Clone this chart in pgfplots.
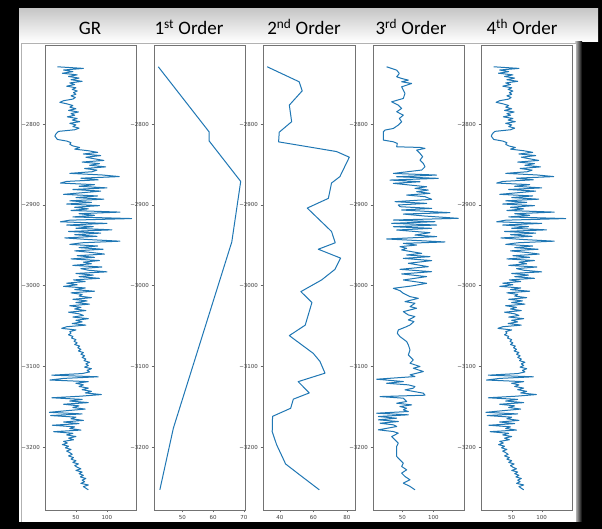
\documentclass[border=0pt]{standalone}
\usepackage{fontspec}
\setmainfont{Carlito}
\newfontfamily\ticksans{DejaVu Sans}
\usepackage{pgfplots}
\usepackage{pgfplotstable}
\pgfplotsset{compat=1.18}
\definecolor{mplblue}{RGB}{31,119,180}

% depth, GR value
\pgfplotstableread{
d v
-2729 20
-2731 62
-2733 30
-2735 45
-2737 28
-2739 52
-2741 38
-2743 55
-2745 42
-2747 60
-2749 40
-2751 48
-2753 35
-2755 50
-2757 44
-2759 52
-2761 46
-2763 50
-2765 42
-2767 49
-2769 45
-2771 30
-2773 24
-2775 36
-2777 45
-2779 40
-2781 50
-2783 38
-2785 54
-2787 42
-2789 48
-2791 36
-2793 52
-2795 44
-2797 56
-2799 40
-2801 50
-2803 45
-2805 55
-2807 48
-2809 22
-2811 19
-2813 17
-2815 16
-2817 18
-2819 20
-2821 35
-2823 42
-2825 40
-2827 45
-2829 56
-2831 48
-2833 70
-2835 85
-2837 62
-2839 90
-2841 66
-2843 80
-2845 95
-2847 60
-2849 88
-2851 72
-2853 98
-2855 64
-2857 84
-2859 76
-2861 40
-2863 92
-2865 120
-2867 58
-2869 86
-2871 35
-2873 25
-2875 80
-2877 55
-2879 100
-2881 45
-2883 90
-2885 60
-2887 30
-2889 85
-2891 50
-2893 95
-2895 40
-2897 75
-2899 35
-2901 88
-2903 48
-2905 70
-2907 42
-2909 121
-2911 55
-2913 80
-2915 45
-2917 140
-2919 40
-2921 25
-2923 100
-2925 35
-2927 78
-2929 50
-2931 108
-2933 38
-2935 90
-2937 48
-2939 84
-2941 32
-2943 70
-2945 121
-2947 60
-2949 40
-2951 85
-2953 55
-2955 94
-2957 48
-2959 75
-2961 96
-2963 52
-2965 80
-2967 42
-2969 88
-2971 62
-2973 75
-2975 45
-2977 92
-2979 58
-2981 70
-2983 100
-2985 50
-2987 78
-2989 55
-2991 88
-2993 46
-2995 65
-2997 35
-2999 52
-3001 30
-3003 65
-3005 48
-3007 80
-3009 42
-3011 60
-3013 55
-3015 75
-3017 45
-3019 68
-3021 50
-3023 72
-3025 40
-3027 58
-3029 48
-3031 66
-3033 38
-3035 55
-3037 62
-3039 45
-3041 70
-3043 50
-3045 60
-3047 44
-3049 66
-3051 35
-3053 27
-3055 50
-3057 40
-3059 42
-3061 38
-3063 45
-3065 43
-3067 50
-3069 47
-3071 52
-3073 48
-3075 56
-3077 53
-3079 58
-3081 54
-3083 62
-3085 58
-3087 64
-3089 60
-3091 66
-3093 63
-3095 72
-3097 66
-3099 70
-3101 64
-3103 75
-3105 68
-3107 72
-3109 60
-3111 11
-3113 86
-3115 30
-3117 8
-3119 70
-3121 50
-3123 62
-3125 55
-3127 70
-3129 60
-3131 75
-3133 65
-3135 91
-3137 58
-3139 11
-3141 60
-3143 40
-3145 70
-3147 30
-3149 55
-3151 45
-3153 65
-3155 35
-3157 7
-3159 60
-3161 9
-3163 50
-3165 42
-3167 62
-3169 30
-3171 55
-3173 12
-3175 48
-3177 40
-3179 58
-3181 14
-3183 45
-3185 35
-3187 50
-3189 38
-3191 46
-3193 30
-3195 36
-3197 28
-3199 38
-3201 33
-3203 42
-3205 35
-3207 40
-3209 44
-3211 38
-3213 46
-3215 42
-3217 50
-3219 45
-3221 54
-3223 48
-3225 52
-3227 58
-3229 50
-3231 60
-3233 55
-3235 62
-3237 57
-3239 66
-3241 60
-3243 64
-3245 58
-3247 70
-3249 62
-3251 66
-3253 70
}\grdata

\pgfplotstableread{
d v
-2729 42.2
-2809.5 58.7
-2820.7 58.7
-2871 69.0
-2946 66.1
-3176.6 47.1
-3253 42.7
}\firstdata

\pgfplotstableread{
d v
-2729 32.4
-2747.6 51.5
-2758.8 53.3
-2776.5 45.6
-2797 47.0
-2810 39.6
-2822 39.2
-2834 73.8
-2841 81.4
-2865 75.8
-2873 70.8
-2892 68.9
-2904 56.3
-2933 70.8
-2947 73.0
-2955 62.9
-2966 76.2
-2980 72.8
-2993 64.9
-3007.5 52.5
-3021 59.1
-3049 55.1
-3062 45.6
-3084 59.9
-3094 63.9
-3108.5 66.9
-3119 50.9
-3133 57.5
-3140.7 48.0
-3152 46.4
-3162 35.6
-3181 35.4
-3197 38.0
-3221 43.4
-3234 51.5
-3253 63.5
}\seconddata

\pgfplotstableread{
d v
-2729.0 24.7
-2733.2 40.9
-2737.3 45.2
-2741.4 40.9
-2743.5 48.9
-2745.5 59.7
-2747.6 48.9
-2749.7 65.1
-2753.8 48.9
-2757.9 51.6
-2762.0 54.3
-2768.2 51.6
-2772.4 32.8
-2776.5 43.5
-2780.6 48.9
-2784.7 40.9
-2788.9 51.6
-2793.0 45.2
-2797.1 48.9
-2801.2 43.5
-2805.4 35.5
-2807.4 22.0
-2809.5 19.4
-2819.8 19.4
-2821.9 35.5
-2823.9 41.9
-2828.1 40.9
-2828.9 78.5
-2830.1 86.6
-2832.2 73.1
-2836.3 78.5
-2840.4 82.8
-2844.6 78.5
-2848.7 83.9
-2852.8 86.6
-2856.9 81.2
-2861.1 35.5
-2863.1 105.4
-2865.2 40.9
-2867.2 108.1
-2869.3 30.1
-2871.4 78.5
-2873.4 35.5
-2877.6 89.2
-2879.6 70.4
-2881.7 91.9
-2883.7 73.1
-2885.8 94.6
-2887.9 57.0
-2889.9 86.6
-2893.2 97.3
-2896.1 38.2
-2898.2 89.2
-2900.2 43.5
-2902.3 46.2
-2904.4 97.3
-2906.4 48.9
-2909.7 126.9
-2911.4 51.6
-2913.9 86.6
-2916.7 140.3
-2918.8 35.5
-2920.9 102.7
-2922.9 32.8
-2925.0 105.4
-2927.1 35.5
-2929.1 97.3
-2931.2 40.9
-2934.5 94.6
-2937.4 70.4
-2939.4 105.4
-2942.3 24.7
-2944.8 89.2
-2946.0 118.8
-2947.7 51.6
-2949.8 73.1
-2951.8 46.2
-2953.9 57.0
-2955.9 48.9
-2960.1 81.2
-2962.1 57.0
-2964.2 94.6
-2966.3 51.6
-2969.1 97.3
-2972.4 59.7
-2976.6 91.9
-2979.9 46.2
-2982.8 97.3
-2985.6 48.9
-2988.9 89.2
-2993.1 51.6
-2997.2 89.2
-3000.5 65.1
-3003.4 35.5
-3006.3 46.2
-3009.6 51.6
-3013.7 62.4
-3015.8 75.8
-3019.9 54.3
-3021.9 70.4
-3026.1 62.4
-3028.1 73.1
-3032.3 51.6
-3036.4 59.7
-3038.4 70.4
-3042.6 59.7
-3044.6 68.8
-3048.8 62.4
-3050.8 57.0
-3055.0 43.5
-3059.1 41.9
-3063.2 46.2
-3069.4 57.0
-3073.5 59.7
-3079.7 62.4
-3085.9 59.7
-3092.1 67.7
-3096.2 62.4
-3100.3 78.5
-3102.4 67.7
-3106.5 83.9
-3110.6 62.4
-3112.7 70.4
-3116.0 8.6
-3118.9 51.6
-3121.0 24.7
-3123.0 59.7
-3125.1 70.4
-3127.1 67.7
-3129.2 54.3
-3133.3 83.9
-3135.8 86.6
-3137.5 14.0
-3139.5 51.6
-3143.6 57.0
-3145.7 40.9
-3147.8 65.1
-3149.8 46.2
-3151.9 57.0
-3154.0 51.6
-3156.0 59.7
-3158.1 8.6
-3160.1 59.7
-3162.2 11.3
-3164.3 40.9
-3166.3 11.3
-3168.4 43.5
-3170.5 14.0
-3172.5 35.5
-3174.6 40.9
-3178.7 11.3
-3180.8 35.5
-3182.8 43.5
-3187.0 32.8
-3191.1 38.2
-3195.2 43.5
-3199.3 40.9
-3203.5 40.9
-3211.7 40.9
-3215.8 46.2
-3220.0 51.6
-3224.1 48.9
-3228.2 57.0
-3232.3 48.9
-3236.5 54.3
-3240.6 62.4
-3244.7 51.6
-3248.8 62.4
-3253.0 70.4
}\thirddata

\pgfplotsset{
  panel/.style={
    scale only axis,
    width=91pt, height=465pt,
    anchor=south west,
    ymin=-3278, ymax=-2702,
    axis line style={draw=black!55, line width=0.6pt},
    tick style={draw=black!60, line width=0.4pt},
    major tick length=2.5pt,
    tick align=outside,
    xtick pos=left, ytick pos=left,
    ytick={-3200,-3100,-3000,-2900,-2800},
    yticklabels={−3200,−3100,−3000,−2900,−2800},
    tick label style={font=\fontsize{5.5}{6}\selectfont\ticksans, text=black!75},
    yticklabel style={xshift=1pt},
    xticklabel style={yshift=1pt},
  },
  logline/.style={mplblue, line width=1pt, line join=round, mark=none},
}

\begin{document}
\begin{tikzpicture}[x=1pt,y=1pt]
% screenshot frame
\fill[black] (0,0) rectangle (602,529);
\fill[white] (19,7) rectangle (598,520);
\shade[top color=black!22, bottom color=white] (19,487) rectangle (598,520);
\fill[black] (582,7) rectangle (602,487);
\shade[left color=black!20, right color=black] (575,7) rectangle (582,487);
\fill[white] (21,7) rectangle (576,486);
\draw[black!30, line width=0.5pt] (21,7) -- (21,486) -- (576,486);

% titles
\node[anchor=base, font=\fontsize{19}{22}\selectfont] at (90,494) {GR};
\node[anchor=base, font=\fontsize{19}{22}\selectfont] at (189,494) {1\textsuperscript{st} Order};
\node[anchor=base, font=\fontsize{19}{22}\selectfont] at (304,494) {2\textsuperscript{nd} Order};
\node[anchor=base, font=\fontsize{19}{22}\selectfont] at (411,494) {3\textsuperscript{rd} Order};
\node[anchor=base, font=\fontsize{19}{22}\selectfont] at (522,494) {4\textsuperscript{th} Order};

\begin{axis}[panel, at={(45pt,19pt)}, xmin=0, xmax=147,
  xtick={50,100}, xticklabels={50,100}]
\addplot[logline] table[x=v, y=d] {\grdata};
\end{axis}

\begin{axis}[panel, at={(154pt,19pt)}, xmin=40.8, xmax=70.4,
  xtick={50,60,70}, xticklabels={50,60,70}]
\addplot[logline] table[x=v, y=d] {\firstdata};
\end{axis}

\begin{axis}[panel, at={(263pt,19pt)}, width=92pt, xmin=29.9, xmax=84.8,
  xtick={40,60,80}, xticklabels={40,60,80}]
\addplot[logline] table[x=v, y=d] {\seconddata};
\end{axis}

\begin{axis}[panel, at={(373pt,19pt)}, xmin=2.7, xmax=149.5,
  xtick={50,100}, xticklabels={50,100}]
\addplot[logline] table[x=v, y=d] {\thirddata};
\end{axis}

\begin{axis}[panel, at={(481pt,19pt)}, xmin=-1.2, xmax=150.5,
  xtick={50,100}, xticklabels={50,100}]
\addplot[logline] table[x=v, y=d] {\grdata};
\end{axis}
\end{tikzpicture}
\end{document}
